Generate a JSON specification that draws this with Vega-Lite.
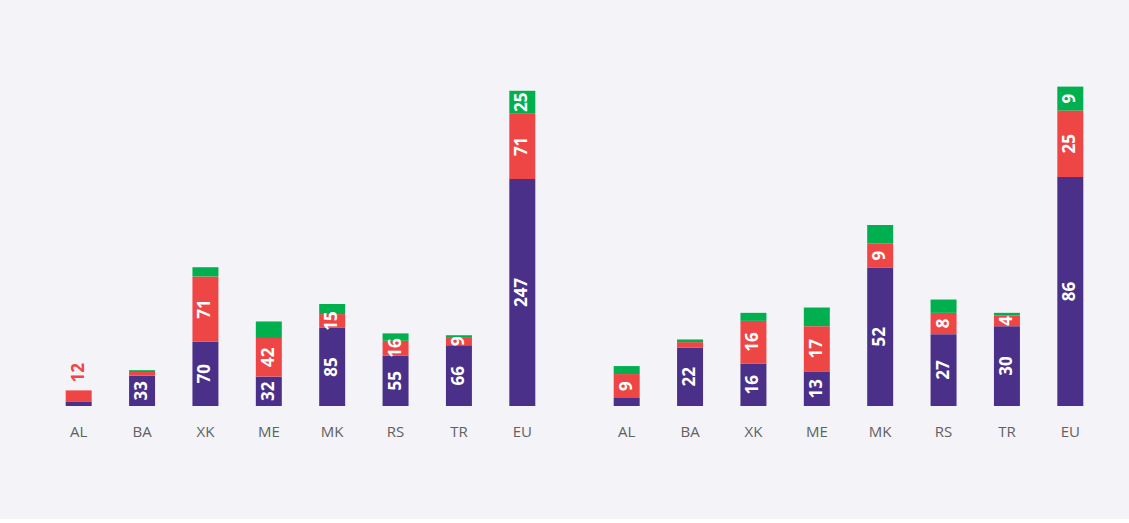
{
  "$schema": "https://vega.github.io/schema/vega-lite/v6.json",
  "background": "#f3f3f8",
  "padding": {"left": 47, "top": 60, "right": 27, "bottom": 80},
  "spacing": 41,
  "config": {"view": {"stroke": null}, "font": "Open Sans"},
  "datasets": {
    "d": [
      {"panel": "L", "country": "AL", "series": 1, "value": 5, "label": null, "out": false},
      {"panel": "L", "country": "AL", "series": 2, "value": 12, "label": "12", "out": true},
      {"panel": "L", "country": "AL", "series": 3, "value": 0, "label": null, "out": false},
      {"panel": "L", "country": "BA", "series": 1, "value": 33, "label": "33", "out": false},
      {"panel": "L", "country": "BA", "series": 2, "value": 4, "label": null, "out": false},
      {"panel": "L", "country": "BA", "series": 3, "value": 2, "label": null, "out": false},
      {"panel": "L", "country": "XK", "series": 1, "value": 70, "label": "70", "out": false},
      {"panel": "L", "country": "XK", "series": 2, "value": 71, "label": "71", "out": false},
      {"panel": "L", "country": "XK", "series": 3, "value": 10, "label": null, "out": false},
      {"panel": "L", "country": "ME", "series": 1, "value": 32, "label": "32", "out": false},
      {"panel": "L", "country": "ME", "series": 2, "value": 42, "label": "42", "out": false},
      {"panel": "L", "country": "ME", "series": 3, "value": 18, "label": null, "out": false},
      {"panel": "L", "country": "MK", "series": 1, "value": 85, "label": "85", "out": false},
      {"panel": "L", "country": "MK", "series": 2, "value": 15, "label": "15", "out": false},
      {"panel": "L", "country": "MK", "series": 3, "value": 11, "label": null, "out": false},
      {"panel": "L", "country": "RS", "series": 1, "value": 55, "label": "55", "out": false},
      {"panel": "L", "country": "RS", "series": 2, "value": 16, "label": "16", "out": false},
      {"panel": "L", "country": "RS", "series": 3, "value": 8, "label": null, "out": false},
      {"panel": "L", "country": "TR", "series": 1, "value": 66, "label": "66", "out": false},
      {"panel": "L", "country": "TR", "series": 2, "value": 9, "label": "9", "out": false},
      {"panel": "L", "country": "TR", "series": 3, "value": 2, "label": null, "out": false},
      {"panel": "L", "country": "EU", "series": 1, "value": 247, "label": "247", "out": false},
      {"panel": "L", "country": "EU", "series": 2, "value": 71, "label": "71", "out": false},
      {"panel": "L", "country": "EU", "series": 3, "value": 25, "label": "25", "out": false},
      {"panel": "R", "country": "AL", "series": 1, "value": 3, "label": null, "out": false},
      {"panel": "R", "country": "AL", "series": 2, "value": 9, "label": "9", "out": false},
      {"panel": "R", "country": "AL", "series": 3, "value": 3, "label": null, "out": false},
      {"panel": "R", "country": "BA", "series": 1, "value": 22, "label": "22", "out": false},
      {"panel": "R", "country": "BA", "series": 2, "value": 2, "label": null, "out": false},
      {"panel": "R", "country": "BA", "series": 3, "value": 1, "label": null, "out": false},
      {"panel": "R", "country": "XK", "series": 1, "value": 16, "label": "16", "out": false},
      {"panel": "R", "country": "XK", "series": 2, "value": 16, "label": "16", "out": false},
      {"panel": "R", "country": "XK", "series": 3, "value": 3, "label": null, "out": false},
      {"panel": "R", "country": "ME", "series": 1, "value": 13, "label": "13", "out": false},
      {"panel": "R", "country": "ME", "series": 2, "value": 17, "label": "17", "out": false},
      {"panel": "R", "country": "ME", "series": 3, "value": 7, "label": null, "out": false},
      {"panel": "R", "country": "MK", "series": 1, "value": 52, "label": "52", "out": false},
      {"panel": "R", "country": "MK", "series": 2, "value": 9, "label": "9", "out": false},
      {"panel": "R", "country": "MK", "series": 3, "value": 7, "label": null, "out": false},
      {"panel": "R", "country": "RS", "series": 1, "value": 27, "label": "27", "out": false},
      {"panel": "R", "country": "RS", "series": 2, "value": 8, "label": "8", "out": false},
      {"panel": "R", "country": "RS", "series": 3, "value": 5, "label": null, "out": false},
      {"panel": "R", "country": "TR", "series": 1, "value": 30, "label": "30", "out": false},
      {"panel": "R", "country": "TR", "series": 2, "value": 4, "label": "4", "out": false},
      {"panel": "R", "country": "TR", "series": 3, "value": 1, "label": null, "out": false},
      {"panel": "R", "country": "EU", "series": 1, "value": 86, "label": "86", "out": false},
      {"panel": "R", "country": "EU", "series": 2, "value": 25, "label": "25", "out": false},
      {"panel": "R", "country": "EU", "series": 3, "value": 9, "label": "9", "out": false}
    ]
  },
  "hconcat": [
    {
      "width": 507,
      "height": 346,
      "data": {"name": "d"},
      "transform": [
        {"filter": "datum.panel === 'L'"},
        {"stack": "value", "groupby": ["country"], "sort": [{"field": "series", "order": "ascending"}], "as": ["y0", "y1"]}
      ],
      "encoding": {
        "x": {
          "field": "country", "type": "nominal", "sort": null,
          "scale": {"paddingInner": 0.59, "paddingOuter": 0.295},
          "axis": {"title": null, "labelAngle": 0, "ticks": false, "domain": false, "labelPadding": 18, "labelFontSize": 15, "labelColor": "#616161", "labelFont": "Open Sans", "labelFontWeight": 500}
        }
      },
      "layer": [
        {
          "mark": {"type": "bar"},
          "encoding": {
            "y": {"field": "y0", "type": "quantitative", "scale": {"domain": [0, 376.5], "nice": false}, "axis": null},
            "y2": {"field": "y1"},
            "color": {"field": "series", "type": "nominal", "scale": {"domain": [1, 2, 3], "range": ["#4a3088", "#ee4545", "#00b04f"]}, "legend": null}
          }
        },
        {
          "transform": [
            {"filter": "datum.label != null && !datum.out"},
            {"fold": ["y0", "y1"], "as": ["k", "v"]}
          ],
          "mark": {"type": "text", "angle": 270, "align": "center", "baseline": "middle", "color": "white", "fontWeight": "bold", "fontSize": 17, "font": "Open Sans"},
          "encoding": {
            "y": {"aggregate": "mean", "field": "v", "type": "quantitative", "scale": {"domain": [0, 376.5], "nice": false}},
            "detail": {"field": "series"},
            "text": {"field": "label"}
          }
        },
        {
          "transform": [{"filter": "datum.out"}],
          "mark": {"type": "text", "angle": 270, "align": "left", "baseline": "middle", "dx": 8, "color": "#ee4545", "fontWeight": "bold", "fontSize": 17, "font": "Open Sans"},
          "encoding": {
            "y": {"field": "y1", "type": "quantitative", "scale": {"domain": [0, 376.5], "nice": false}},
            "text": {"field": "label"}
          }
        }
      ]
    },
    {
      "width": 507,
      "height": 346,
      "data": {"name": "d"},
      "transform": [
        {"filter": "datum.panel === 'R'"},
        {"stack": "value", "groupby": ["country"], "sort": [{"field": "series", "order": "ascending"}], "as": ["y0", "y1"]}
      ],
      "encoding": {
        "x": {
          "field": "country", "type": "nominal", "sort": null,
          "scale": {"paddingInner": 0.59, "paddingOuter": 0.295},
          "axis": {"title": null, "labelAngle": 0, "ticks": false, "domain": false, "labelPadding": 18, "labelFontSize": 15, "labelColor": "#616161", "labelFont": "Open Sans", "labelFontWeight": 500}
        }
      },
      "layer": [
        {
          "mark": {"type": "bar"},
          "encoding": {
            "y": {"field": "y0", "type": "quantitative", "scale": {"domain": [0, 130], "nice": false}, "axis": null},
            "y2": {"field": "y1"},
            "color": {"field": "series", "type": "nominal", "scale": {"domain": [1, 2, 3], "range": ["#4a3088", "#ee4545", "#00b04f"]}, "legend": null}
          }
        },
        {
          "transform": [
            {"filter": "datum.label != null && !datum.out"},
            {"fold": ["y0", "y1"], "as": ["k", "v"]}
          ],
          "mark": {"type": "text", "angle": 270, "align": "center", "baseline": "middle", "color": "white", "fontWeight": "bold", "fontSize": 17, "font": "Open Sans"},
          "encoding": {
            "y": {"aggregate": "mean", "field": "v", "type": "quantitative", "scale": {"domain": [0, 130], "nice": false}},
            "detail": {"field": "series"},
            "text": {"field": "label"}
          }
        }
      ]
    }
  ]
}
